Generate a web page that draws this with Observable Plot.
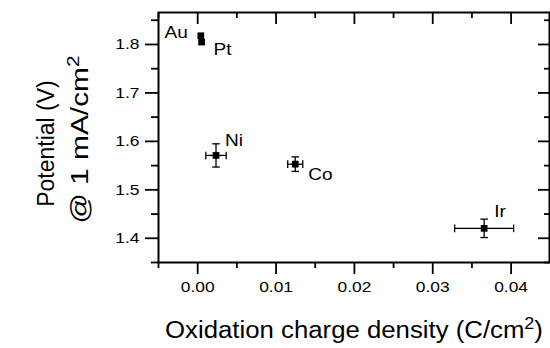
<!DOCTYPE html>
<html>
<head>
<meta charset="utf-8">
<script src="https://cdn.jsdelivr.net/npm/d3@7"></script>
<script src="https://cdn.jsdelivr.net/npm/@observablehq/plot@0.6"></script>
<style>
  html, body { margin: 0; padding: 0; background: white; }
  #chart svg, #chart svg text { font-family: "Liberation Sans", Arial, sans-serif !important; }
</style>
</head>
<body>
<div id="chart"></div>
<script>
// ---- data ----
const metals = ["Au", "Pt", "Ni", "Co", "Ir"];
const chargeDensity = [0.0004, 0.0005, 0.00234, 0.01245, 0.03656];
const potential = [1.818, 1.805, 1.571, 1.553, 1.4205];
const chargeErr = [0, 0, 0.0013, 0.00096, 0.00376];
const potentialErr = [0, 0, 0.024, 0.015, 0.019];
const xMajorTicks = [0.00, 0.01, 0.02, 0.03, 0.04];
const xMinorTicks = [-0.005, 0.005, 0.015, 0.025, 0.035];
const yMajorTicks = [1.4, 1.5, 1.6, 1.7, 1.8];
const yMinorTicks = [1.35, 1.45, 1.55, 1.65, 1.75, 1.85];
const xTitle = "Oxidation charge density (C/cm²)";
const yTitle1 = "Potential (V)";
const yTitle2 = "@ 1 mA/cm²";

const data = metals.map((m, i) => ({
  metal: m, x: chargeDensity[i], y: potential[i], ex: chargeErr[i], ey: potentialErr[i]
}));
const withErr = data.filter(d => d.ex > 0 || d.ey > 0);

// label placement (pixels)
const labelPos = {
  Au: {dx: -13, dy: -3, anchor: "end"},
  Pt: {dx: 12, dy: 7, anchor: "start"},
  Ni: {dx: 9, dy: -15, anchor: "start"},
  Co: {dx: 13, dy: 10, anchor: "start"},
  Ir: {dx: 10, dy: -17, anchor: "start"}
};

const hbar = {draw(ctx, size) { const r = Math.sqrt(size / Math.PI); ctx.moveTo(-r, 0); ctx.lineTo(r, 0); }};
const vbar = {draw(ctx, size) { const r = Math.sqrt(size / Math.PI); ctx.moveTo(0, -r); ctx.lineTo(0, r); }};

const chart = Plot.plot({
  width: 550,
  height: 348,
  marginLeft: 158,
  marginRight: 1,
  marginTop: 12,
  marginBottom: 86,
  style: {background: "white", color: "black", overflow: "visible"},
  x: {domain: [-0.005, 0.0449]},
  y: {domain: [1.35, 1.866]},
  marks: [
    // error bars
    Plot.link(withErr, {x1: d => d.x - d.ex, x2: d => d.x + d.ex, y1: "y", y2: "y", stroke: "black", strokeWidth: 1.3}),
    Plot.link(withErr, {x1: "x", x2: "x", y1: d => d.y - d.ey, y2: d => d.y + d.ey, stroke: "black", strokeWidth: 1.3}),
    Plot.dot(withErr, {x: "x", y: d => d.y - d.ey, symbol: hbar, r: 3.8, stroke: "black", strokeWidth: 1.3, fill: "none"}),
    Plot.dot(withErr, {x: "x", y: d => d.y + d.ey, symbol: hbar, r: 3.8, stroke: "black", strokeWidth: 1.3, fill: "none"}),
    Plot.dot(withErr, {x: d => d.x - d.ex, y: "y", symbol: vbar, r: 3.8, stroke: "black", strokeWidth: 1.3, fill: "none"}),
    Plot.dot(withErr, {x: d => d.x + d.ex, y: "y", symbol: vbar, r: 3.8, stroke: "black", strokeWidth: 1.3, fill: "none"}),
    // points
    Plot.dot(data, {x: "x", y: "y", symbol: "square", r: 3.8, fill: "black", stroke: "none"}),
    // point labels
    ...data.map(d => Plot.text([d], {
      x: "x", y: "y", text: "metal",
      dx: labelPos[d.metal].dx, dy: labelPos[d.metal].dy,
      textAnchor: labelPos[d.metal].anchor,
      fontSize: 17, fill: "black"
    })),
    // axes
    Plot.axisX({ticks: xMajorTicks, tickSize: 12, tickPadding: 6, tickFormat: d => d.toFixed(2), fontSize: 15.5, strokeWidth: 1.8, label: null}),
    Plot.axisX({ticks: xMinorTicks, tickSize: 6, text: null, strokeWidth: 1.8, label: null}),
    Plot.axisX({anchor: "top", ticks: xMajorTicks, tickSize: -11, text: null, strokeWidth: 1.8, label: null}),
    Plot.axisX({anchor: "top", ticks: xMinorTicks, tickSize: -5, text: null, strokeWidth: 1.8, label: null}),
    Plot.axisY({ticks: yMajorTicks, tickSize: 13, tickPadding: 6, tickFormat: d => d.toFixed(1), fontSize: 15.5, strokeWidth: 1.8, label: null}),
    Plot.axisY({ticks: yMinorTicks, tickSize: 7, text: null, strokeWidth: 1.8, label: null}),
    Plot.axisY({anchor: "right", ticks: yMajorTicks, tickSize: -12, text: null, strokeWidth: 1.8, label: null}),
    Plot.axisY({anchor: "right", ticks: yMinorTicks, tickSize: -6, text: null, strokeWidth: 1.8, label: null}),
    Plot.frame({stroke: "black", strokeWidth: 2}),
    // axis titles
    Plot.text([xTitle], {text: d => d, frameAnchor: "bottom", lineAnchor: "middle", dy: 68, fontSize: 23, fill: "black"}),
    Plot.text([yTitle1], {text: d => d, frameAnchor: "left", textAnchor: "middle", dx: -112, dy: 6, rotate: -90, fontSize: 23, fill: "black"}),
    Plot.text([yTitle2], {text: d => d, frameAnchor: "left", textAnchor: "middle", dx: -78, dy: 2, rotate: -90, fontSize: 23, fill: "black"})
  ]
});

document.getElementById("chart").appendChild(chart);

// render superscript 2 as a raised, smaller digit
chart.querySelectorAll("text").forEach(t => {
  if (t.children.length === 0 && t.textContent.includes("²")) {
    const [before, after] = t.textContent.split("²");
    t.textContent = before;
    const sup = document.createElementNS("http://www.w3.org/2000/svg", "tspan");
    sup.textContent = "2";
    sup.setAttribute("font-size", "16");
    sup.setAttribute("dy", "-9");
    t.appendChild(sup);
    if (after) {
      const rest = document.createElementNS("http://www.w3.org/2000/svg", "tspan");
      rest.textContent = after;
      rest.setAttribute("dy", "9");
      t.appendChild(rest);
    }
  }
});

// the reference text is slightly wide: stretch texts along their baseline
chart.querySelectorAll("text").forEach(t => {
  const g = t.closest("g");
  const rotated = (t.getAttribute("transform") || "").includes("rotate") ||
                  (g && (g.getAttribute("transform") || "").includes("rotate"));
  const len = t.getComputedTextLength();
  if (!(len > 0)) return;
  let factor = 1.12;
  if (rotated) factor = t.textContent.startsWith("@") ? 1.3 : 1.0;
  if (factor !== 1) {
    t.setAttribute("textLength", (len * factor).toFixed(1));
    t.setAttribute("lengthAdjust", "spacingAndGlyphs");
  }
});
</script>
</body>
</html>
